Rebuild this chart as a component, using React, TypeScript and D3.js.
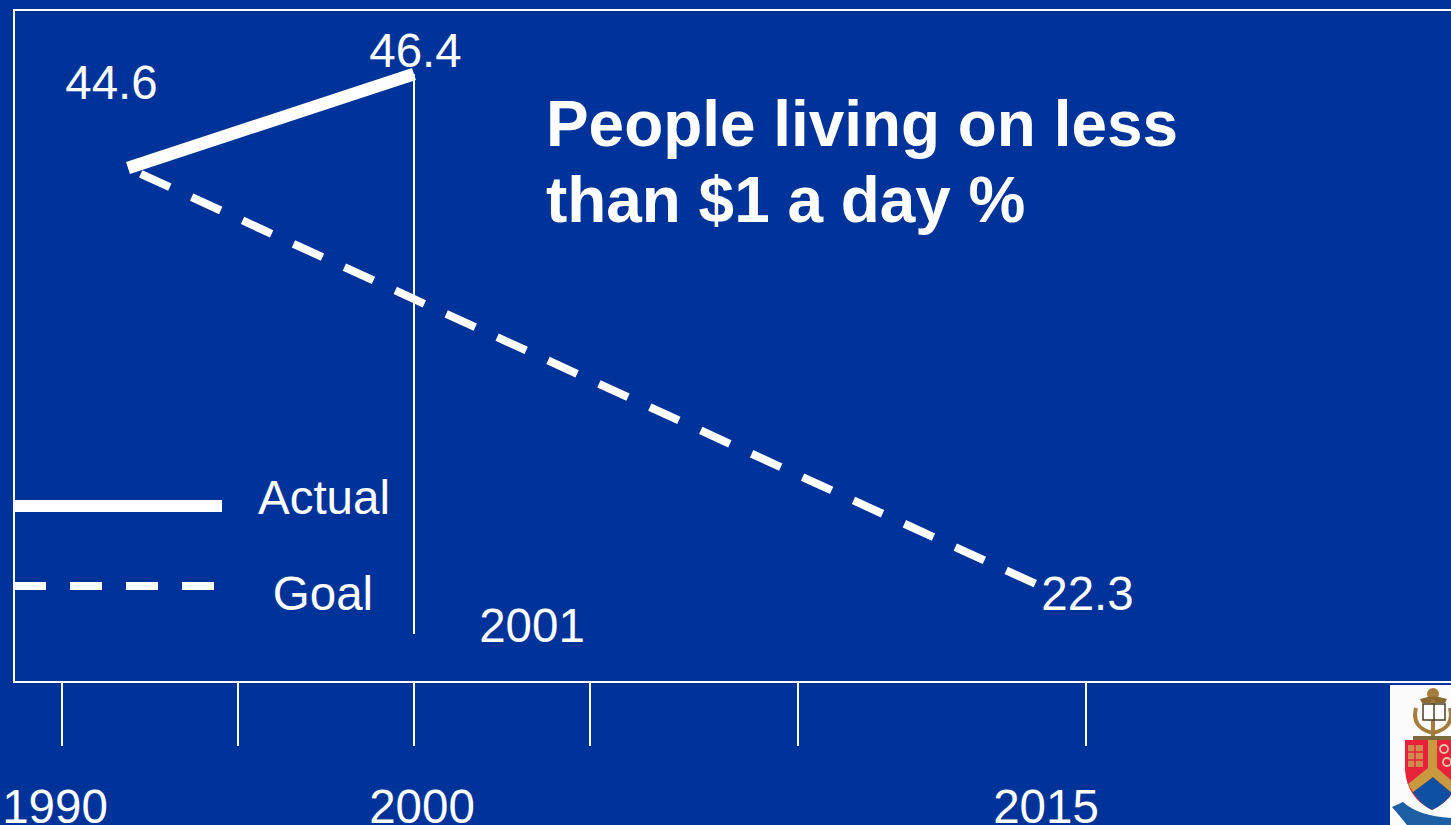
import React from "react";
import * as d3 from "d3";

const tickYears = [1990, 1995, 2000, 2005, 2010, 2015];
const labelledYears = ["1990", "2000", "2015"];
const actualYears = [1991.875, 2000];
const actualValues = [44.6, 46.4];
const goalYears = [1991.875, 2014.13];
const goalValues = [44.6, 22.3];
const titleLines = ["People living on less", "than $1 a day %"];
const legendNames = ["Actual", "Goal"];
const markerYear = "2001";

const W = 1451, H = 825;
const BG = "#003399";
const FONT = "'Liberation Sans', Arial, sans-serif";

const x = d3.scaleLinear().domain(tickYears).range([62, 238, 414, 590, 798, 1086]);
const y = d3.scaleLinear().domain([22.3, 44.6, 46.4]).range([584, 168, 74]);
const line = d3.line<[number, number]>().x(d => x(d[0])).y(d => y(d[1]));
const zip = (a: number[], b: number[]) => a.map((v, i) => [v, b[i]] as [number, number]);

const labelDx: Record<string, number> = { "1990": -7, "2000": 8, "2015": -40 };

function Crest() {
  return (
    <g>
      <defs>
        <filter id="soft" x="-5%" y="-5%" width="110%" height="110%">
          <feGaussianBlur stdDeviation={0.7} />
        </filter>
        <clipPath id="crestClip"><rect x={1390} y={685} width={61} height={140} /></clipPath>
      </defs>
      <rect x={1390} y={685} width={61} height={140} fill="#fbfbfb" />
      <g clipPath="url(#crestClip)" filter="url(#soft)">
        <ellipse cx={1433} cy={694} rx={6} ry={6} fill="#a67c3c" />
        <path d="M1420,699 Q1433,694 1447,699 L1445,703 H1422 Z" fill="#8a6a30" />
        <path d="M1416,708 Q1411,728 1433,733 Q1455,728 1450,708" fill="none" stroke="#a67c3c" strokeWidth={4} />
        <rect x={1431} y={700} width={4} height={36} fill="#a67c3c" />
        <path d="M1423,704 H1445 V720 H1423 Z" fill="#ffffff" stroke="#4a3f28" strokeWidth={1.5} />
        <line x1={1434} y1={704} x2={1434} y2={720} stroke="#4a3f28" strokeWidth={1.5} />
        <rect x={1413} y={736} width={38} height={4} fill="#7d6a3c" />
        <path d="M1405,740 H1460 V770 Q1458,798 1432,810 Q1407,798 1405,770 Z" fill="#e8203c" />
        <path d="M1413,792 L1433,777 L1452,793 Q1445,804 1432,810 Q1420,804 1413,792 Z" fill="#0a50a0" />
        <path d="M1428,740 H1437 V768 L1452,781 V793 L1433,777 L1413,792 L1408,784 L1428,768 Z" fill="#c9993f" />
        <rect x={1408} y={745} width={15} height={22} fill="#d08a50" />
        <path d="M1408,752 H1423 M1408,760 H1423 M1415,745 V767" stroke="#e8203c" strokeWidth={1.5} />
        <circle cx={1444} cy={749} r={4} fill="none" stroke="#e8c8a0" strokeWidth={1.8} />
        <circle cx={1447} cy={762} r={4} fill="none" stroke="#e8c8a0" strokeWidth={1.8} />
        <path d="M1392,807 L1403,802 Q1418,816 1451,818 V825 H1407 Q1399,815 1392,807 Z" fill="#1a5fa5" />
      </g>
    </g>
  );
}

export default function App() {
  return (
    <svg width={W} height={H} style={{ position: "fixed", left: 0, top: 0, display: "block" }} fontFamily={FONT} fill="#ffffff">
      <rect width={W} height={H} fill={BG} />
      <path d={`M${W + 2},10 H14 V682 H${W + 2}`} fill="none" stroke="#ffffff" strokeWidth={2} />

      {tickYears.map(t => (
        <line key={t} x1={x(t)} x2={x(t)} y1={682} y2={746} stroke="#ffffff" strokeWidth={2} />
      ))}
      {labelledYears.map(t => (
        <text key={t} x={x(+t) + labelDx[t]} y={823} fontSize={47.5} textAnchor="middle">{t}</text>
      ))}

      <line x1={x(2000)} x2={x(2000)} y1={y(46.4)} y2={634} stroke="#ffffff" strokeWidth={2} />

      <path d={line(zip(goalYears, goalValues)) ?? ""} fill="none" stroke="#ffffff" strokeWidth={8} strokeDasharray="32 24" strokeDashoffset={42} />
      <path d={line(zip(actualYears, actualValues)) ?? ""} fill="none" stroke="#ffffff" strokeWidth={12.5} />

      <text x={111.5} y={98.5} fontSize={47.5} textAnchor="middle">{actualValues[0].toFixed(1)}</text>
      <text x={415.5} y={66.5} fontSize={47.5} textAnchor="middle">{actualValues[1].toFixed(1)}</text>
      <text x={1087.5} y={610} fontSize={47.5} textAnchor="middle">{goalValues[1].toFixed(1)}</text>
      <text x={532} y={642} fontSize={47.5} textAnchor="middle">{markerYear}</text>

      {titleLines.map((t, i) => (
        <text key={t} x={546} y={146 + i * 76} fontSize={63.9} fontWeight={700}>{t}</text>
      ))}

      <line x1={14} x2={222} y1={506} y2={506} stroke="#ffffff" strokeWidth={12} />
      <line x1={14} x2={214} y1={586} y2={586} stroke="#ffffff" strokeWidth={8} strokeDasharray="32 24" />
      <text x={324} y={514} fontSize={47.5} textAnchor="middle">{legendNames[0]}</text>
      <text x={323} y={610} fontSize={47.5} textAnchor="middle">{legendNames[1]}</text>

      <Crest />
    </svg>
  );
}
